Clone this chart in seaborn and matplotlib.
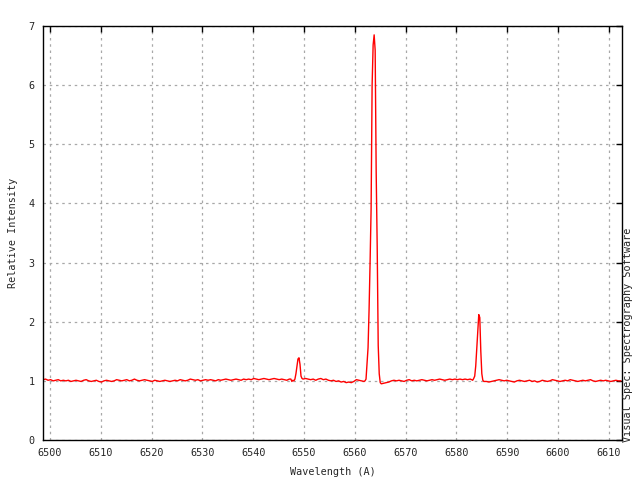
#!/usr/bin/env python
# coding: utf-8

# H-alpha / [NII] region, relative intensity vs wavelength (gnuplot-like look)

import numpy as np
import pandas as pd
import matplotlib
matplotlib.use("Agg")
import matplotlib.pyplot as plt
import seaborn as sns

# continuum 6498.6 .. 6547.1, step 0.5
cont_a = [1.02, 1.03, 1.01, 1.02, 1.00, 1.01, 1.02, 1.00, 1.01, 1.00,
          1.01, 0.99, 1.00, 1.01, 1.00, 0.99, 1.01, 1.02, 1.00, 0.99,
          1.00, 1.01, 0.99, 0.98, 1.00, 1.01, 1.00, 0.99, 1.00, 1.02,
          1.01, 1.00, 1.01, 1.02, 1.00, 1.01, 1.03, 1.01, 1.00, 1.01,
          1.02, 1.01, 1.00, 0.99, 1.01, 1.00, 0.99, 1.00, 1.01, 1.00,
          0.99, 1.00, 1.01, 1.00, 1.02, 1.01, 1.00, 1.01, 1.03, 1.02,
          1.01, 1.02, 1.00, 1.01, 1.02, 1.01, 1.02, 1.01, 1.00, 1.02,
          1.01, 1.02, 1.03, 1.02, 1.01, 1.02, 1.03, 1.02, 1.01, 1.03,
          1.02, 1.03, 1.02, 1.04, 1.03, 1.02, 1.03, 1.04, 1.03, 1.02,
          1.03, 1.04, 1.03, 1.02, 1.03, 1.02, 1.01, 1.03]
# [NII] 6548 line, 6547.4 .. 6549.8, step 0.2
line_n1 = [1.03, 0.99, 1.01, 1.00, 1.03, 1.12, 1.24, 1.37, 1.39, 1.28,
           1.08, 1.04, 1.03]
# continuum 6550.3 .. 6561.8
cont_b = [1.04, 1.03, 1.02, 1.03, 1.01, 1.03, 1.04, 1.02, 1.03, 1.01,
          1.00, 1.01, 0.99, 1.00, 0.98, 0.99, 0.97, 0.98, 0.97, 0.99,
          1.02, 1.01, 1.00, 0.99]
# H-alpha, 6562.0 .. 6565.2, step 0.2
line_ha = [1.00, 1.03, 1.30, 1.56, 2.2, 3.0, 3.9, 6.0, 6.68, 6.85,
           6.59, 4.53, 3.27, 1.6, 1.12, 0.97, 0.95]
# continuum 6565.7 .. 6582.7
cont_c = [0.96, 0.97, 0.98, 1.00, 1.01, 1.00, 1.01, 1.00, 0.99, 1.01,
          1.02, 1.00, 1.01, 1.00, 1.01, 1.02, 1.01, 1.00, 1.01, 1.02,
          1.01, 1.02, 1.03, 1.02, 1.01, 1.02, 1.03, 1.02, 1.03, 1.02,
          1.03, 1.02, 1.03, 1.02, 1.03]
# [NII] 6584 line, 6583.0 .. 6585.4, step 0.2
line_n2 = [1.02, 1.01, 1.04, 1.08, 1.25, 1.55, 1.85, 2.12, 2.07, 1.50,
           1.12, 1.01, 0.99]
# continuum 6585.9 .. end
cont_d = [0.99, 0.98, 0.99, 1.00, 1.01, 1.02, 1.01, 1.00, 1.01, 1.00,
          0.99, 0.98, 1.00, 1.01, 1.00, 0.99, 1.00, 1.01, 0.99, 1.00,
          0.98, 0.99, 1.01, 1.00, 0.99, 1.00, 1.02, 1.01, 1.00, 0.99,
          1.00, 1.01, 1.00, 1.02, 1.01, 1.00, 0.99, 1.00, 1.01, 1.00,
          1.01, 1.02, 1.00, 0.99, 1.00, 1.01, 1.00, 1.01, 1.00, 0.99,
          1.00, 1.01, 1.00, 1.00]

segments = [(6498.6, 0.5, cont_a), (6547.4, 0.2, line_n1),
            (6550.3, 0.5, cont_b), (6562.0, 0.2, line_ha),
            (6565.7, 0.5, cont_c), (6583.0, 0.2, line_n2),
            (6585.9, 0.5, cont_d)]

wl = np.concatenate([s + st * np.arange(len(v)) for s, st, v in segments])
inten = np.concatenate([v for _, _, v in segments])
df = pd.DataFrame({"Wavelength": wl, "Intensity": inten})

x_ticks = list(range(6500, 6611, 10))
y_ticks = list(range(0, 8))

sns.set_style("white")
plt.rcParams["font.family"] = ["DejaVu Sans Mono"]
plt.rcParams["font.size"] = 7.3

fig = plt.figure(figsize=(6.4, 4.8), dpi=100)
ax = fig.add_axes([43 / 640, 1 - 440 / 480, 579 / 640, 414 / 480])

sns.lineplot(data=df, x="Wavelength", y="Intensity", color="red",
             linewidth=1, estimator=None, ax=ax)

ax.set_xlim(6498.6, 6612.6)
ax.set_ylim(0, 7)
ax.set_xticks(x_ticks)
ax.set_yticks(y_ticks)
ax.grid(True, color="#a8a8a8", linestyle=(0, (2, 3)), linewidth=0.9)
ax.tick_params(direction="in", length=4, width=1, color="black",
               top=True, right=True, labelsize=7.3, pad=6)
for sp in ax.spines.values():
    sp.set_color("black")
    sp.set_linewidth(1)

ax.set_xlabel("Wavelength (A)", fontsize=7.3, labelpad=6)
ax.set_ylabel("Relative Intensity", fontsize=7.3)
ax.yaxis.set_label_coords(-25 / 579, 0.5)
fig.text(628 / 640, 1 - 335 / 480, "Visual Spec: Spectrography Software",
         rotation=90, ha="center", va="center", fontsize=7.3)

fig.savefig("out.png", dpi=100, facecolor="white")
